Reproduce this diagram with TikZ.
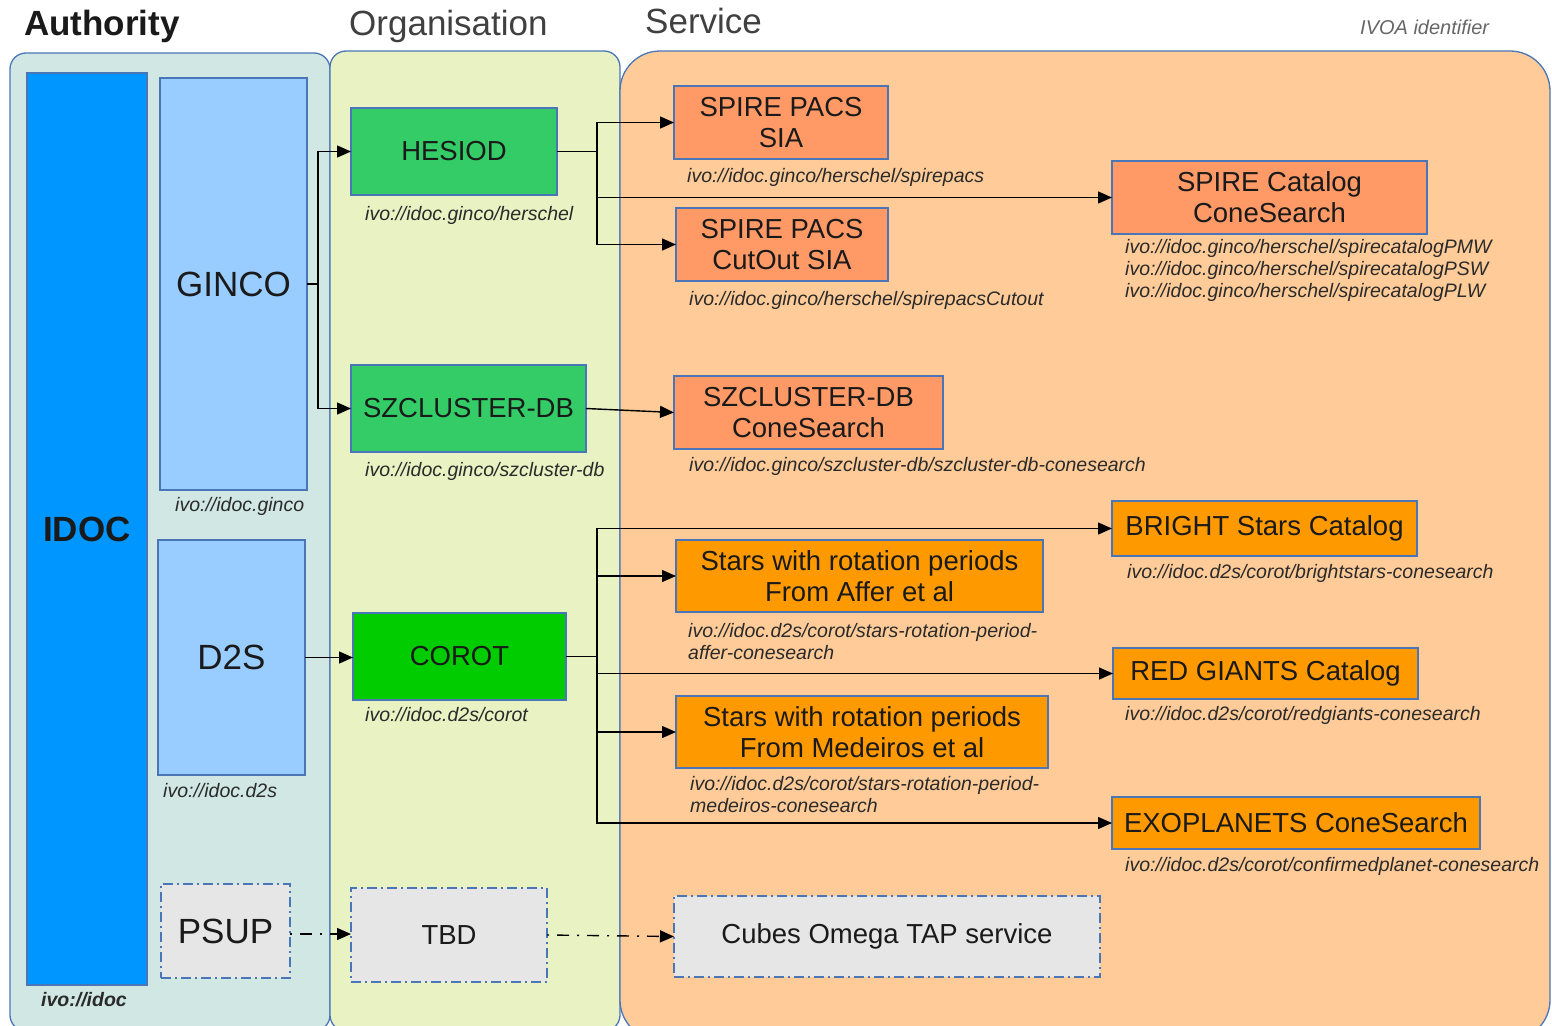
\documentclass[tikz,border=0pt]{standalone}
\usepackage{fontspec}
\setmainfont{Liberation Sans}
\usetikzlibrary{arrows.meta}
\definecolor{authfill}{HTML}{D0E7E3}
\definecolor{orgfill}{HTML}{E9F2C3}
\definecolor{svcfill}{HTML}{FFCC99}
\definecolor{bord}{HTML}{4A76B8}
\definecolor{idocblue}{HTML}{0096FF}
\definecolor{lblue}{HTML}{99CCFF}
\definecolor{hgreen}{HTML}{33CC66}
\definecolor{cgreen}{HTML}{00CC00}
\definecolor{coral}{HTML}{FF9966}
\definecolor{orange}{HTML}{FF9900}
\definecolor{tbdgray}{HTML}{E6E6E6}
\definecolor{txt}{HTML}{1A1A1A}
\definecolor{idtxt}{HTML}{2A2A2A}
\begin{document}
\begin{tikzpicture}[x=1pt,y=-1pt,
  panel/.style={draw=bord, line width=1.3pt},
  box/.style={draw=bord, line width=1.3pt, outer sep=0pt, inner sep=0pt, align=center,
    anchor=north west, text=txt, font=\fontsize{27.5}{31}\selectfont},
  big/.style={box, font=\fontsize{35}{40}\selectfont},
  dashbox/.style={box, fill=tbdgray, dash pattern=on 10pt off 4pt on 2pt off 4pt},
  idl/.style={inner sep=0pt, anchor=west, align=left, text=idtxt,
    font=\itshape\fontsize{19.5}{22}\selectfont},
  hdr/.style={inner sep=0pt, anchor=west, font=\fontsize{35}{40}\selectfont},
  arr/.style={line width=1.4pt, -{Triangle[length=14pt,width=12pt]}},
  darr/.style={arr, dash pattern=on 2pt off 8pt on 12pt off 8pt},
]
\useasboundingbox (0,0) rectangle (1552,1025);
% panels
\draw[panel, fill=authfill, rounded corners=16pt] (10,53) rectangle (330,1031);
\draw[panel, fill=orgfill, rounded corners=16pt] (330,51) rectangle (620,1031);
\draw[panel, fill=svcfill, rounded corners=40pt] (620,51) rectangle (1550,1040);
% headers
\node[hdr, font=\bfseries\fontsize{35}{40}\selectfont, text=txt] (hauth) at (24,26) {Authority};
\node[hdr, text=black!75] (horg) at (349,26) {Organisation};
\node[hdr, text=black!75] (hsvc) at (645,21) {Service};
\node[hdr, font=\itshape\fontsize{20}{22}\selectfont, text=black!60] (hivoa) at (1360,27) {IVOA identifier};
% authority
\node[big, fill=idocblue, minimum width=120pt, minimum height=912pt, font=\bfseries\fontsize{35}{40}\selectfont] (idoc) at (27,73) {IDOC};
\node[idl, font=\bfseries\itshape\fontsize{19.5}{22}\selectfont] (idocid) at (41,1000) {ivo://idoc};
\node[big, fill=lblue, minimum width=147pt, minimum height=412pt] (ginco) at (160,78) {GINCO};
\node[idl] (gincoid) at (175,506) {ivo://idoc.ginco};
\node[big, fill=lblue, minimum width=147pt, minimum height=235pt] (d2s) at (158,540) {D2S};
\node[idl] (d2sid) at (163,791) {ivo://idoc.d2s};
\node[big, dashbox, font=\fontsize{35}{40}\selectfont, minimum width=129pt, minimum height=94pt] (psup) at (161,884) {PSUP};
% organisation
\node[box, fill=hgreen, minimum width=206pt, minimum height=87pt] (hesiod) at (351,108) {HESIOD};
\node[idl] (hesiodid) at (365,215) {ivo://idoc.ginco/herschel};
\node[box, fill=hgreen, minimum width=235pt, minimum height=87pt] (szc) at (351,365) {SZCLUSTER-DB};
\node[idl] (szcid) at (365,471) {ivo://idoc.ginco/szcluster-db};
\node[box, fill=cgreen, minimum width=213pt, minimum height=87pt] (corot) at (353,613) {COROT};
\node[idl] (corotid) at (365,715) {ivo://idoc.d2s/corot};
\node[dashbox, minimum width=196pt, minimum height=94pt] (tbd) at (351,888) {TBD};
% services
\node[box, fill=coral, minimum width=214pt, minimum height=73pt] (sia) at (674,86) {SPIRE PACS\\SIA};
\node[idl] (siaid) at (687,177) {ivo://idoc.ginco/herschel/spirepacs};
\node[box, fill=coral, minimum width=212pt, minimum height=73pt] (cut) at (676,208) {SPIRE PACS\\CutOut SIA};
\node[idl] (cutid) at (689,300) {ivo://idoc.ginco/herschel/spirepacsCutout};
\node[box, fill=coral, minimum width=315pt, minimum height=73pt] (spcat) at (1112,161) {SPIRE Catalog\\ConeSearch};
\node[idl] (spcatid) at (1125,270) {ivo://idoc.ginco/herschel/spirecatalogPMW\\ivo://idoc.ginco/herschel/spirecatalogPSW\\ivo://idoc.ginco/herschel/spirecatalogPLW};
\node[box, fill=coral, minimum width=269pt, minimum height=73pt] (szcs) at (674,376) {SZCLUSTER-DB\\ConeSearch};
\node[idl] (szcsid) at (689,466) {ivo://idoc.ginco/szcluster-db/szcluster-db-conesearch};
\node[box, fill=orange, minimum width=305pt, minimum height=55pt] (bright) at (1112,501) {BRIGHT Stars Catalog};
\node[idl] (brightid) at (1127,573) {ivo://idoc.d2s/corot/brightstars-conesearch};
\node[box, fill=orange, minimum width=367pt, minimum height=72pt] (affer) at (676,540) {Stars with rotation periods\\From Affer et al};
\node[idl] (afferid) at (688,642) {ivo://idoc.d2s/corot/stars-rotation-period-\\affer-conesearch};
\node[box, fill=orange, minimum width=305pt, minimum height=51pt] (red) at (1113,648) {RED GIANTS Catalog};
\node[idl] (redid) at (1125,715) {ivo://idoc.d2s/corot/redgiants-conesearch};
\node[box, fill=orange, minimum width=372pt, minimum height=72pt] (med) at (676,696) {Stars with rotation periods\\From Medeiros et al};
\node[idl] (medid) at (690,795) {ivo://idoc.d2s/corot/stars-rotation-period-\\medeiros-conesearch};
\node[box, fill=orange, minimum width=368pt, minimum height=52pt] (exo) at (1112,797) {EXOPLANETS ConeSearch};
\node[idl] (exoid) at (1125,866) {ivo://idoc.d2s/corot/confirmedplanet-conesearch};
\node[dashbox, minimum width=426pt, minimum height=81pt] (cubes) at (674,896) {Cubes Omega TAP service};
% connectors
\draw[arr] (ginco.east) -- ++(11,0) |- (hesiod.west);
\draw[arr] (ginco.east) -- ++(11,0) |- (szc.west);
\draw[arr] (hesiod.east) -- ++(40,0) |- (sia.west);
\draw[arr] (hesiod.east) -- ++(40,0) |- (cut.west);
\draw[arr] (hesiod.east) -- ++(40,0) |- (spcat.west);
\draw[arr] (szc.east) -- (szcs.west);
\draw[arr] (d2s.east) -- (d2s.east -| corot.west);
\draw[arr] (corot.east) -- ++(31,0) |- (bright.west);
\draw[arr] (corot.east) -- ++(31,0) |- (affer.west);
\draw[arr] (corot.east) -- ++(31,0) |- (red.west);
\draw[arr] (corot.east) -- ++(31,0) |- (med.west);
\draw[arr] (corot.east) -- ++(31,0) |- (exo.west);
\draw[darr] ([yshift=-3pt]psup.east) -- ([yshift=-3pt]psup.east -| tbd.west);
\draw[darr] (tbd.east) -- (cubes.west);
\end{tikzpicture}
\end{document}
